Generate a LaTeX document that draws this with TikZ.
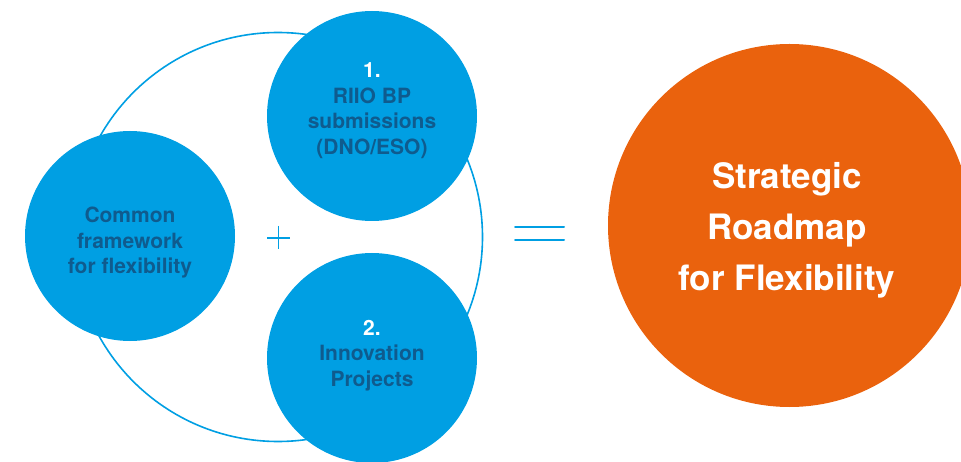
\documentclass[tikz,border=0pt]{standalone}
\usepackage{fontspec}
\setmainfont{TeX Gyre Heros}
\definecolor{cblue}{HTML}{009FE3}
\definecolor{ctext}{HTML}{0F5B8E}
\definecolor{corange}{HTML}{EA620D}
\begin{document}
\begin{tikzpicture}[x=1pt,y=-1pt,
  bubble/.style={circle,fill=cblue,inner sep=0pt,minimum size=210pt},
  btext/.style={align=center,inner sep=0pt,text=ctext,font=\fontsize{21}{25.5}\selectfont\bfseries},
  otext/.style={align=center,inner sep=0pt,text=white,font=\fontsize{35}{51}\selectfont\bfseries},
  sign/.style={draw=cblue,line width=2pt,line cap=round}]
\useasboundingbox (0,0) rectangle (961,462);
\node[circle,draw=cblue,line width=1.6pt,inner sep=0pt,minimum size=409pt] (ring) at (278,237) {};
\node[bubble] (left) at (130,236) {};
\node[bubble] (top) at (372,116) {};
\node[bubble] (bottom) at (372,358) {};
\node[circle,fill=corange,inner sep=0pt,minimum size=363pt] (goal) at (789.5,225.5) {};
\node[btext] (lefttext) at (130,243) {Common\\framework\\for flexibility};
\node[btext] (toptext) at (372,110.5) {\textcolor{white}{1.}\\RIIO BP\\submissions\\(DNO/ESO)};
\node[btext] (bottomtext) at (372,355.5) {\textcolor{white}{2.}\\Innovation\\Projects};
\node[otext] (goaltext) at (787,230) {Strategic\\Roadmap\\for Flexibility};
\coordinate (ph1) at (267,238);
\coordinate (ph2) at (290,238);
\coordinate (pv1) at (278.5,226);
\coordinate (pv2) at (278.5,249);
\draw[draw=cblue,line width=1.1pt] (ph1) -- (ph2) (pv1) -- (pv2);
\coordinate (e1a) at (515,227);
\coordinate (e1b) at (564,227);
\coordinate (e2a) at (515,240);
\coordinate (e2b) at (564,240);
\draw[sign] (e1a) -- (e1b) (e2a) -- (e2b);
\end{tikzpicture}
\end{document}
